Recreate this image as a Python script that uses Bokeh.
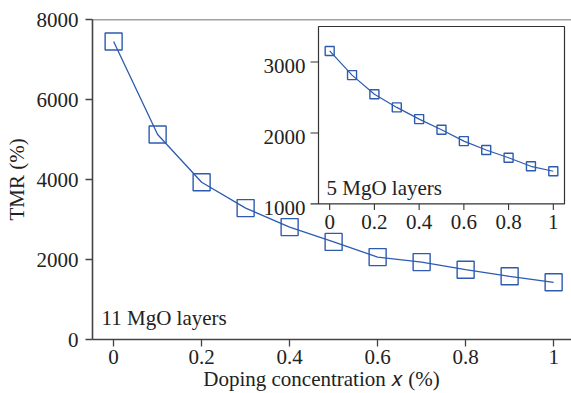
from bokeh.plotting import figure
from bokeh.models import Range1d, Span, FixedTicker
from bokeh.core.properties import value
from bokeh.embed import file_html
from bokeh.resources import INLINE

# ---------------- data ----------------
doping_x = [0.0, 0.1, 0.2, 0.3, 0.4, 0.5, 0.6, 0.7, 0.8, 0.9, 1.0]
tmr_11_layers = [7450, 5125, 3930, 3285, 2810, 2440, 2060, 1935, 1745, 1580, 1430]
tmr_5_layers = [3155, 2815, 2545, 2360, 2195, 2045, 1885, 1760, 1650, 1530, 1460]

main_x_ticks = [0, 0.2, 0.4, 0.6, 0.8, 1]
main_x_labels = ["0", "0.2", "0.4", "0.6", "0.8", "1"]
main_y_ticks = [0, 2000, 4000, 6000, 8000]
inset_x_ticks = [0, 0.2, 0.4, 0.6, 0.8, 1]
inset_x_labels = ["0", "0.2", "0.4", "0.6", "0.8", "1"]
inset_y_ticks = [1000, 2000, 3000]
inset_y_labels = ["1000", "2000", "3000"]

# ---------------- style / layout ----------------
FONT = "Liberation Serif"
FS = "21px"
BLUE = "#2c5bb0"
AXIS = "#444444"
TXT = "#222222"
W, H = 571, 393
# main frame, in page pixels
PL, PR, PT, PB = 92, 571, 19, 340
X_MAIN = (-0.048, 1.0406)
Y_MAIN = (0, 8000)
# inset frame, in page pixels, and its data limits
IL, IR, IT, IB = 318, 564, 26, 204
IX = (-0.05, 1.05)
IY = (1000, 3500)

sx = (IR - IL) / (IX[1] - IX[0])
sy = (IB - IT) / (IY[1] - IY[0])
ex_start = IX[0] - (IL - PL) / sx
ex_end = IX[1] + (PR - IR) / sx
ey_start = IY[0] - (PB - IB) / sy
ey_end = IY[1] + (IT - PT) / sy

p = figure(width=W, height=H, x_range=Range1d(*X_MAIN), y_range=Range1d(*Y_MAIN),
           output_backend="svg", toolbar_location=None,
           min_border_left=PL, min_border_right=W - PR, min_border_top=PT,
           min_border_bottom=H - PB)
p.extra_x_ranges = {"inset": Range1d(ex_start, ex_end)}
p.extra_y_ranges = {"inset": Range1d(ey_start, ey_end)}
p.outline_line_color = None
p.grid.visible = False
p.background_fill_color = "white"
p.border_fill_color = "white"

for ax in (p.xaxis[0], p.yaxis[0]):
    ax.axis_line_color = AXIS
    ax.axis_line_width = 1.6
    ax.major_tick_line_color = AXIS
    ax.major_tick_line_width = 1.3
    ax.major_tick_out = 7
    ax.major_tick_in = 0
    ax.minor_tick_line_color = None
    ax.major_label_text_font = FONT
    ax.major_label_text_font_size = FS
    ax.major_label_text_color = TXT
    ax.axis_label_text_font = FONT
    ax.axis_label_text_font_size = FS
    ax.axis_label_text_font_style = "normal"
    ax.axis_label_text_color = TXT

p.xaxis[0].ticker = FixedTicker(ticks=main_x_ticks)
p.xaxis[0].major_label_overrides = dict(zip(main_x_ticks, main_x_labels))
p.xaxis[0].major_label_standoff = 3
p.xaxis[0].axis_label = "Doping concentration \U0001D465 (%)\u00a0\u00a0\u00a0\u00a0"
p.xaxis[0].axis_label_standoff = 0
p.yaxis[0].ticker = FixedTicker(ticks=main_y_ticks)
p.yaxis[0].major_label_standoff = 7
p.yaxis[0].axis_label = "TMR (%)"
p.yaxis[0].axis_label_standoff = 5

p.add_layout(Span(location=Y_MAIN[1], dimension="width", line_color=AXIS, line_width=1.6))

# main series
p.line(doping_x, tmr_11_layers, line_color=BLUE, line_width=1.3)
p.scatter(doping_x, tmr_11_layers, marker="square", size=17, fill_color=None,
          line_color=BLUE, line_width=1.4)

ppx = (PR - PL) / (X_MAIN[1] - X_MAIN[0])
ppy = (PB - PT) / (Y_MAIN[1] - Y_MAIN[0])
p.text(x=[X_MAIN[0] + (101 - PL) / ppx], y=[(PB - 318) / ppy], text=["11 MgO layers"],
       text_font=value(FONT), text_font_size=FS, text_color=TXT,
       text_align="left", text_baseline="alphabetic")

# ---------------- inset ----------------
rn = dict(x_range_name="inset", y_range_name="inset")
p.quad(left=[IX[0]], right=[IX[1]], bottom=[IY[0]], top=[IY[1]], fill_color="white",
       line_color="#333333", line_width=1.2, **rn)
p.segment(x0=inset_x_ticks, y0=[IY[0]] * len(inset_x_ticks), x1=inset_x_ticks,
          y1=[IY[0] - 6 / sy] * len(inset_x_ticks), line_color="#333333",
          line_width=1.1, **rn)
p.text(x=inset_x_ticks, y=[IY[0] - 18 / sy] * len(inset_x_ticks), text=inset_x_labels,
       text_align="center", text_baseline="alphabetic", text_font=value(FONT),
       text_font_size=FS, text_color=TXT, **rn)
p.segment(x0=[IX[0]] * len(inset_y_ticks), y0=inset_y_ticks,
          x1=[IX[0] - 8 / sx] * len(inset_y_ticks), y1=inset_y_ticks,
          line_color="#333333", line_width=1.1, **rn)
p.text(x=[IX[0] - 13 / sx] * len(inset_y_ticks), y=[t - 4.5 / sy for t in inset_y_ticks],
       text=inset_y_labels, text_align="right", text_baseline="alphabetic",
       text_font=value(FONT), text_font_size=FS, text_color=TXT, **rn)
p.line(doping_x, tmr_5_layers, line_color=BLUE, line_width=1.2, **rn)
p.scatter(doping_x, tmr_5_layers, marker="square", size=9, fill_color=None,
          line_color=BLUE, line_width=1.4, **rn)
p.text(x=[IX[0] + (326 - IL) / sx], y=[IY[0] + (IB - 188) / sy], text=["5 MgO layers"],
       text_align="left", text_baseline="alphabetic", text_font=value(FONT),
       text_font_size=FS, text_color=TXT, **rn)

open("out.html", "w").write(file_html(p, INLINE))
